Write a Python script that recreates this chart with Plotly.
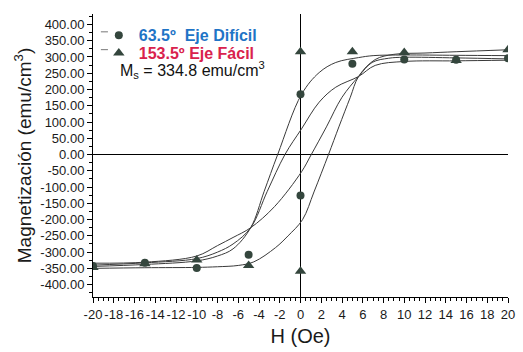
import plotly.graph_objects as go

# Measured points (H in Oe, M in emu/cm^3)
h_hard = [-20, -15, -10, -5, 0, 0, 5, 10, 15, 20]
m_hard = [-343, -333, -349, -308, 185, -126, 279, 292, 291, 296]

h_easy = [-20, -15, -10, -5, 0, 0, 5, 10, 15, 20]
m_easy = [-347, -336, -324, -341, 316, -359, 316, 314, 289, 322]

# Hand-fitted hysteresis branches (read point by point)
h_fit_a_down = [20, 15, 10, 7.0, 5.6, 3.4, 1.8, 0.1, -2.2, -3.5, -4.8, -6.5, -8, -10, -15, -20]
m_fit_a_down = [304, 305, 306, 304, 298, 283, 252, 185, 0, -113, -225, -290, -312, -327, -338, -344]

h_fit_a_up = [-20, -15, -10, -8, -6, -4.5, -2.4, -1.2, 0.2, 1.3, 2.7, 3.7, 4.8, 5.6, 7.2, 9, 12, 15, 20]
m_fit_a_up = [-350, -348, -347, -345, -341, -330, -286, -250, -200, -115, 0, 85, 176, 240, 292, 308, 312, 316, 322]

h_fit_b_down = [20, 15, 10, 7.2, 5.6, 3.4, 1.8, 0.1, -1.5, -3.2, -4.8, -6.5, -8, -10, -15, -20]
m_fit_b_down = [290, 288, 286, 274, 240, 207, 161, 79, 0, -113, -225, -275, -300, -320, -333, -340]

h_fit_b_up = [-20, -15, -10, -8, -6.5, -4.8, -2.5, 0.1, 1.04, 2.5, 4.0, 5.6, 6.9, 8.5, 10, 15, 20]
m_fit_b_up = [-334, -331, -312, -280, -255, -225, -160, -53, 0, 85, 176, 240, 283, 296, 299, 297, 294]

y_ticks = [-400, -350, -300, -250, -200, -150, -100, -50, 0, 50, 100, 150, 200, 250, 300, 350, 400]
x_ticks = list(range(-20, 21, 2))

FONT = "Liberation Sans, Arial, sans-serif"
LINE = "#3a3a3a"
MARK = "#34463d"
BLUE = "#1f74c6"
RED = "#d9224d"

fig = go.Figure()

for hx, my in [(h_fit_a_down, m_fit_a_down), (h_fit_a_up, m_fit_a_up),
               (h_fit_b_down, m_fit_b_down), (h_fit_b_up, m_fit_b_up)]:
    fig.add_trace(go.Scatter(
        x=hx, y=my, mode="lines", showlegend=False, hoverinfo="skip",
        line=dict(color=LINE, width=1, shape="spline", smoothing=1.0),
    ))

fig.add_trace(go.Scatter(
    x=h_easy, y=m_easy, mode="markers", legend="legend2",
    name=f"<b><span style='color:{RED}'>153.5º Eje Fácil</span></b>",
    marker=dict(symbol="triangle-up", size=10, color=MARK),
))
fig.add_trace(go.Scatter(
    x=h_hard, y=m_hard, mode="markers", legend="legend",
    name=f"<b><span style='color:{BLUE}'>63.5º  Eje Difícil</span></b>",
    marker=dict(symbol="circle", size=8, color=MARK),
))

axis_common = dict(showgrid=False, showline=True, linecolor="black", linewidth=1)
legend_common = dict(
    xanchor="left", yanchor="top", bgcolor="rgba(0,0,0,0)", borderwidth=0,
    font=dict(family=FONT, size=16), itemwidth=30,
)

fig.update_layout(
    width=523, height=352,
    margin=dict(l=93, r=8, t=14, b=52),
    paper_bgcolor="white", plot_bgcolor="white",
    font=dict(family=FONT, color="#1a1a1a", size=13),
    showlegend=True,
    legend=dict(x=0.014, y=0.985, **legend_common),
    legend2=dict(x=0.014, y=0.922, **legend_common),
    xaxis=dict(
        **axis_common,
        range=[-20, 20], tickvals=x_ticks, ticktext=[str(v) for v in x_ticks],
        tickangle=0,
        ticks="outside", ticklen=5, tickcolor="black",
        minor=dict(dtick=0.5, tick0=0, ticks="outside", ticklen=3, tickcolor="black"),
        zeroline=True, zerolinecolor="black", zerolinewidth=1.4,
        tickfont=dict(size=13),
        title=dict(text="H (Oe)", font=dict(size=20), standoff=8),
    ),
    xaxis2=dict(
        **axis_common, overlaying="x", side="top", matches="x",
        range=[-20, 20], tickvals=x_ticks, showticklabels=False,
        ticks="inside", ticklen=5, tickcolor="black",
        minor=dict(dtick=0.5, tick0=0, ticks="inside", ticklen=3, tickcolor="black"),
        zeroline=False,
    ),
    yaxis=dict(
        **axis_common,
        range=[-438, 432], tickvals=y_ticks, ticktext=[f"{v:.2f}" for v in y_ticks],
        ticks="outside", ticklen=5, tickcolor="black",
        minor=dict(dtick=25, tick0=0, ticks="outside", ticklen=3, tickcolor="black"),
        zeroline=True, zerolinecolor="black", zerolinewidth=1.4,
        tickfont=dict(size=13),
        title=dict(text="Magnetización (emu/cm<sup>3</sup>)", font=dict(size=19), standoff=3),
    ),
    yaxis2=dict(
        **axis_common, overlaying="y", side="right", matches="y",
        range=[-438, 432], tickvals=y_ticks, showticklabels=False,
        ticks="inside", ticklen=5, tickcolor="black", zeroline=False,
    ),
)

# Short key dashes drawn ahead of the legend symbols
for y_key in (0.937, 0.874):
    fig.add_shape(type="line", xref="paper", yref="paper",
                  x0=0.019, x1=0.036, y0=y_key, y1=y_key,
                  line=dict(color="#777777", width=1))

# Saturation magnetisation note
fig.add_annotation(
    xref="x", yref="y", x=-17.6, y=261, xanchor="left", yanchor="middle",
    text="M<sub>s</sub> = 334.8 emu/cm<sup>3</sup>", showarrow=False,
    font=dict(family=FONT, size=16, color="#111111"),
)

fig.write_html("out.html")
